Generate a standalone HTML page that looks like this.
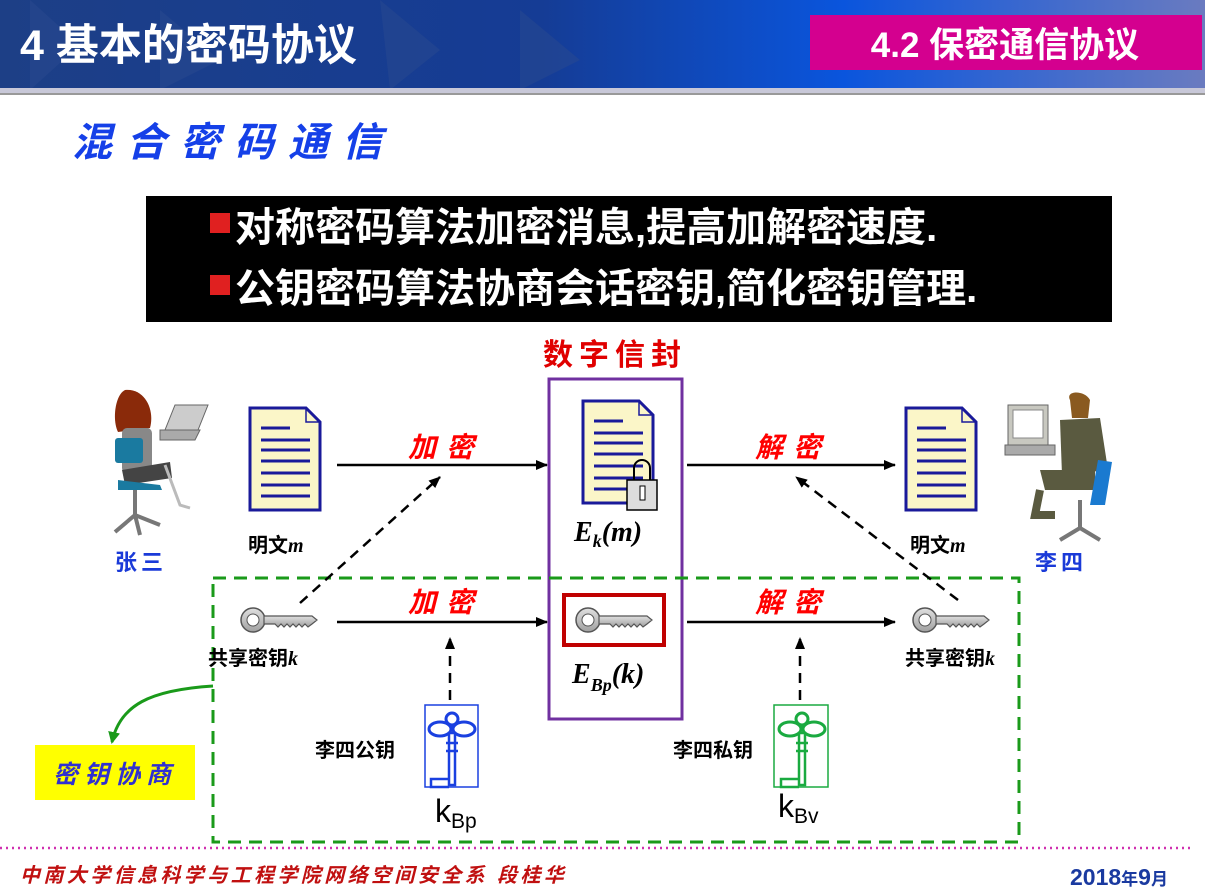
<!DOCTYPE html>
<html><head><meta charset="utf-8"><style>
body{margin:0;width:1205px;height:888px;overflow:hidden;background:#fff;font-family:"Liberation Sans","Noto Sans CJK SC",sans-serif;}
svg{display:block}
</style></head><body>
<svg width="1205" height="888" viewBox="0 0 1205 888" xmlns="http://www.w3.org/2000/svg" font-family="Liberation Sans, Noto Sans CJK SC, sans-serif">
<defs>
<linearGradient id="hg" x1="0" x2="1" y1="0" y2="0">
<stop offset="0" stop-color="#1d3f86"/><stop offset="0.45" stop-color="#153c95"/><stop offset="0.7" stop-color="#0a55dd"/><stop offset="1" stop-color="#6a7bc0"/></linearGradient>
<linearGradient id="kg" x1="0" x2="0" y1="0" y2="1"><stop offset="0" stop-color="#e0e0e0"/><stop offset="1" stop-color="#a0a0a0"/></linearGradient>
<marker id="ah" markerWidth="12" markerHeight="10" refX="11" refY="5" orient="auto" markerUnits="userSpaceOnUse"><path d="M0,0 L12,5 L0,10 Z" fill="#000"/></marker>
<marker id="ahg" markerWidth="14" markerHeight="12" refX="10" refY="6" orient="auto" markerUnits="userSpaceOnUse"><path d="M0,0 L12,6 L0,12 Z" fill="#1a9a1a"/></marker>
<g id="doc"><path d="M0,0 H56 L70,14 V102 H0 Z" fill="#fbf6c8" stroke="#1a1a9a" stroke-width="3"/><path d="M56,0 V14 H70" fill="none" stroke="#1a1a9a" stroke-width="1.5"/>
<g stroke="#1a1a9a" stroke-width="3"><line x1="11" y1="20" x2="40" y2="20"/><line x1="11" y1="32" x2="60" y2="32"/><line x1="11" y1="42" x2="60" y2="42"/><line x1="11" y1="53" x2="60" y2="53"/><line x1="11" y1="65" x2="60" y2="65"/><line x1="11" y1="77" x2="60" y2="77"/><line x1="11" y1="88" x2="60" y2="88"/></g></g>
<g id="key"><circle cx="13" cy="15" r="12" fill="url(#kg)" stroke="#555" stroke-width="1.5"/><circle cx="13" cy="15" r="6" fill="#fff" stroke="#555"/><path d="M24,11 H72 L77,15 L72,19 L68,22 L65,19 L62,22 L59,19 L56,22 L53,19 L50,22 L47,19 L44,22 L41,19 L38,22 L35,19 H24 Z" fill="url(#kg)" stroke="#555" stroke-width="1.2"/></g>
<g id="bkey"><circle cx="27" cy="12" r="6" fill="none" stroke-width="3"/><ellipse cx="15" cy="22" rx="11" ry="7" fill="none" stroke-width="3"/><ellipse cx="39" cy="22" rx="11" ry="7" fill="none" stroke-width="3"/><rect x="24" y="26" width="6" height="52" fill="none" stroke-width="2.5"/><path d="M21,36 h12 M21,44 h12 M24,72 h-18 v8 h18" fill="none" stroke-width="2.5"/></g>
</defs>
<!-- header -->
<rect x="0" y="0" width="1205" height="90" fill="url(#hg)"/>
<path d="M30,0 L80,45 L30,90 Z M160,10 L220,60 L160,90 Z M380,0 L440,50 L390,90Z M520,10 L580,60 L520,90Z" fill="#2a4a90" opacity="0.5"/>
<rect x="0" y="88" width="1205" height="5" fill="#c8c8d8"/>
<rect x="0" y="93" width="1205" height="2" fill="#999"/>
<text x="20" y="60" font-size="43" font-weight="bold" fill="#fff">4 基本的密码协议</text>
<rect x="810" y="15" width="392" height="55" fill="#d4008f"/>
<text x="1005" y="57" font-size="35" font-weight="bold" fill="#fff" text-anchor="middle">4.2 保密通信协议</text>
<text x="72" y="156" font-size="40" font-weight="bold" fill="#1540e8" letter-spacing="14" font-style="italic">混合密码通信</text>
<!-- black box -->
<rect x="146" y="196" width="966" height="126" fill="#000"/>
<rect x="210" y="213" width="20" height="20" fill="#e02020"/><rect x="210" y="275" width="20" height="20" fill="#e02020"/>
<text x="235" y="241" font-size="40" font-weight="bold" fill="#fff">对称密码算法加密消息,提高加解密速度.</text>
<text x="235" y="302" font-size="40" font-weight="bold" fill="#fff">公钥密码算法协商会话密钥,简化密钥管理.</text>
<text x="615" y="365" font-size="30" font-weight="bold" fill="#e00000" text-anchor="middle" letter-spacing="6">数字信封</text>
<!-- purple box -->
<rect x="549" y="379" width="133" height="340" fill="none" stroke="#7030a0" stroke-width="3"/>
<!-- green dashed -->
<rect x="213" y="578" width="806" height="264" fill="none" stroke="#1a9a1a" stroke-width="3" stroke-dasharray="13,8"/>
<!-- docs -->
<use href="#doc" x="250" y="408"/>
<use href="#doc" x="583" y="401"/>
<use href="#doc" x="906" y="408"/>
<!-- lock -->
<path d="M634,482 V468 a8,8 0 0 1 16,0 V482" fill="none" stroke="#000" stroke-width="2"/>
<rect x="627" y="480" width="30" height="30" fill="#ddd" stroke="#000" stroke-width="1.5"/><rect x="640" y="486" width="5" height="14" fill="#fff" stroke="#000"/>
<!-- arrows -->
<g stroke="#000" stroke-width="2.5" fill="none">
<line x1="337" y1="465" x2="547" y2="465" marker-end="url(#ah)"/>
<line x1="687" y1="465" x2="895" y2="465" marker-end="url(#ah)"/>
<line x1="337" y1="622" x2="547" y2="622" marker-end="url(#ah)"/>
<line x1="687" y1="622" x2="895" y2="622" marker-end="url(#ah)"/>
<line x1="300" y1="603" x2="440" y2="477" stroke-dasharray="10,7" marker-end="url(#ah)"/>
<line x1="958" y1="600" x2="796" y2="477" stroke-dasharray="10,7" marker-end="url(#ah)"/>
<line x1="450" y1="700" x2="450" y2="638" stroke-dasharray="10,7" marker-end="url(#ah)"/>
<line x1="800" y1="700" x2="800" y2="638" stroke-dasharray="10,7" marker-end="url(#ah)"/>
</g>
<g font-size="28" font-weight="bold" fill="#ff0000" font-style="italic" letter-spacing="10">
<text x="408" y="457">加密</text><text x="755" y="457">解密</text>
<text x="408" y="612">加密</text><text x="755" y="612">解密</text></g>
<!-- keys -->
<use href="#key" x="240" y="605"/>
<use href="#key" x="912" y="605"/>
<rect x="564" y="595" width="100" height="50" fill="#fff" stroke="#c00000" stroke-width="4"/>
<use href="#key" x="575" y="605"/>
<g font-family="Liberation Serif, serif" font-style="italic" font-weight="bold" fill="#000">
<text x="574" y="541" font-size="28">E<tspan font-size="18" dy="6">k</tspan><tspan dy="-6">(m)</tspan></text>
<text x="572" y="683" font-size="28">E<tspan font-size="18" dy="8">Bp</tspan><tspan dy="-8">(k)</tspan></text></g>
<g font-size="20" font-weight="bold" fill="#000">
<text x="248" y="552">明文<tspan font-family="Liberation Serif,serif" font-style="italic">m</tspan></text>
<text x="910" y="552">明文<tspan font-family="Liberation Serif,serif" font-style="italic">m</tspan></text>
<text x="208" y="665">共享密钥<tspan font-family="Liberation Serif,serif" font-style="italic">k</tspan></text>
<text x="905" y="665">共享密钥<tspan font-family="Liberation Serif,serif" font-style="italic">k</tspan></text>
<text x="315" y="757">李四公钥</text><text x="673" y="757">李四私钥</text></g>
<text x="435" y="822" font-size="32" fill="#000">k<tspan font-size="21" dy="6">Bp</tspan></text>
<text x="778" y="817" font-size="32" fill="#000">k<tspan font-size="21" dy="6">Bv</tspan></text>
<!-- blue/green keys -->
<rect x="425" y="705" width="53" height="82" fill="#fff" stroke="#1a40e0" stroke-width="1.5"/>
<use href="#bkey" x="425" y="707" stroke="#1a40e0"/>
<rect x="774" y="705" width="54" height="82" fill="#fff" stroke="#1aaa40" stroke-width="1.5"/>
<use href="#bkey" x="775" y="707" stroke="#1aaa40"/>
<!-- names -->
<text x="115" y="570" font-size="22" font-weight="bold" fill="#1a3ad8" letter-spacing="4">张三</text>
<text x="1035" y="570" font-size="22" font-weight="bold" fill="#1a3ad8" letter-spacing="4">李四</text>
<!-- yellow -->
<rect x="35" y="745" width="160" height="55" fill="#ffff00"/>
<text x="115" y="783" font-size="25" font-weight="bold" fill="#3030d0" text-anchor="middle" font-style="italic" letter-spacing="6">密钥协商</text>
<path d="M213,686 C150,690 120,705 112,742" fill="none" stroke="#1a9a1a" stroke-width="3" marker-end="url(#ahg)"/>
<!-- person left -->
<g>
<path d="M125,390 C115,395 112,420 118,432 L150,428 C155,410 145,388 125,390Z" fill="#8a2a0a"/>
<rect x="122" y="428" width="30" height="45" fill="#888" rx="5"/>
<rect x="115" y="438" width="28" height="25" fill="#1a7aa0" rx="3"/>
<path d="M122,470 L170,462 L172,478 L125,485Z" fill="#444"/>
<path d="M118,480 L160,485 L162,490 L118,490Z" fill="#1a7aa0"/>
<line x1="135" y1="490" x2="135" y2="515" stroke="#777" stroke-width="4"/>
<path d="M115,532 L135,515 L160,525 M135,515 L140,535" stroke="#777" stroke-width="4" fill="none"/>
<path d="M165,465 L180,505 L190,508" stroke="#bbb" stroke-width="3" fill="none"/>
<path d="M175,405 L208,405 L198,430 L165,430Z" fill="#ccc" stroke="#666"/>
<path d="M160,430 L200,430 L195,440 L160,440Z" fill="#aaa" stroke="#666"/>
</g>
<!-- person right -->
<g>
<path d="M1070,400 C1065,390 1085,390 1090,400 L1088,418 L1072,418Z" fill="#8a5a20"/>
<path d="M1060,420 L1100,418 L1108,470 L1062,475Z" fill="#5a5a40"/>
<path d="M1040,470 L1095,470 L1095,490 L1045,490Z" fill="#5a5a40"/>
<path d="M1040,490 L1035,515 L1055,515" stroke="#5a5a40" stroke-width="8" fill="none"/>
<path d="M1098,460 L1112,462 L1105,505 L1090,505Z" fill="#1a7ad0"/>
<line x1="1080" y1="500" x2="1080" y2="530" stroke="#777" stroke-width="4"/>
<path d="M1060,540 L1080,528 L1100,540" stroke="#777" stroke-width="4" fill="none"/>
<rect x="1008" y="405" width="40" height="40" fill="#c8c8c0" stroke="#666"/>
<rect x="1013" y="410" width="30" height="28" fill="#fff" stroke="#888"/>
<rect x="1005" y="445" width="50" height="10" fill="#aaa" stroke="#666"/>
</g>
<!-- footer -->
<line x1="0" y1="848" x2="1190" y2="848" stroke="#d030b0" stroke-width="2.5" stroke-dasharray="2,4"/>
<text x="20" y="882" font-size="20" font-weight="bold" font-style="italic" fill="#c01010" letter-spacing="3.4">中南大学信息科学与工程学院网络空间安全系  段桂华</text>
<text x="1070" y="885" font-size="23" font-weight="bold" fill="#1a3aa0">2018<tspan font-size="17">年</tspan>9<tspan font-size="17">月</tspan></text>
</svg>
</body></html>
